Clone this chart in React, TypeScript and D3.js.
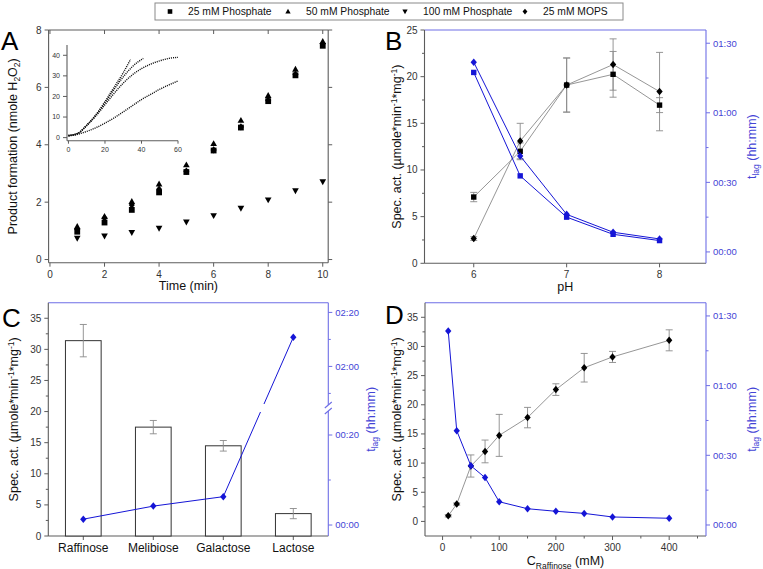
import React from 'react';
import * as d3 from 'd3';

// ---------------- data ----------------
// Panel A: product formation (nmole H2O2) vs time (min)
const timeMin = [1, 2, 3, 4, 5, 6, 7, 8, 9, 10];
const phosphate25 = [0.97, 1.29, 1.73, 2.34, 3.05, 3.8, 4.6, 5.52, 6.42, 7.45];
const phosphate50 = [1.15, 1.5, 2.02, 2.63, 3.3, 4.04, 4.85, 5.72, 6.63, 7.6];
const phosphate100 = [0.74, 0.82, 0.94, 1.09, 1.31, 1.53, 1.79, 2.08, 2.4, 2.71];
const mops25 = [1.05, 1.45, 1.9, 2.45, 3.08, 3.82, 4.62, 5.55, 6.45, 7.52];
const legendLabels = ['25 mM Phosphate', '50 mM Phosphate', '100 mM Phosphate', '25 mM MOPS'];

// Panel A inset curves
const inset1X = [0, 5, 10, 15, 20, 25, 30, 34];
const inset1Y = [1, 2, 6, 11, 17.5, 24.5, 31.5, 38];
const inset2X = [0, 5, 10, 15, 20, 25, 30, 35, 41];
const inset2Y = [1, 2, 6, 11, 17, 23.5, 29.5, 34.5, 38.5];
const inset3X = [0, 5, 10, 15, 20, 25, 30, 35, 40, 45, 50, 55, 60];
const inset3Y = [1, 2, 5.8, 10.5, 16, 21.5, 26.5, 30.5, 33.5, 35.7, 37.3, 38.5, 39];
const inset4X = [0, 5, 10, 15, 20, 25, 30, 35, 40, 45, 50, 55, 60];
const inset4Y = [0.8, 1.6, 3, 4.8, 7, 9.6, 12.5, 15.5, 18.5, 21, 23.5, 25.6, 27.5];

// Panel B: pH
const pHValues = [6, 6.5, 7, 7.5, 8];
const actSquare = [7.1, 12.0, 19.1, 20.25, 16.95];
const actSquareErr = [0.5, 0.9, 2.9, 2.45, 0.8];
const actDiamond = [2.65, 13.1, 19.1, 21.3, 18.4];
const actDiamondErr = [0.2, 1.9, 2.9, 2.75, 4.2];
const lagSquareMin = [77.4, 32.8, 15.0, 7.6, 4.9];
const lagDiamondMin = [81.8, 41.4, 16.2, 8.5, 5.6];

// Panel C: sugars
const sugars = ['Raffinose', 'Melibiose', 'Galactose', 'Lactose'];
const sugarAct = [31.4, 17.5, 14.5, 3.6];
const sugarErr = [2.6, 1.07, 0.85, 0.82];
const sugarLagMin = [1.3, 4.2, 6.3, 130.8];

// Panel D: raffinose concentration
const raffConc = [10, 25, 50, 75, 100, 150, 200, 250, 300, 400];
const raffAct = [0.96, 2.97, 9.5, 12.0, 14.75, 17.8, 22.6, 26.35, 28.2, 31.05];
const raffErr = [0.2, 0.2, 1.9, 1.95, 3.6, 1.75, 1.0, 2.45, 0.95, 1.8];
const raffLagMin = [83.5, 40.6, 25.5, 20.4, 10.0, 7.0, 5.9, 5.0, 3.45, 2.9];

// ---------------- styles ----------------
const FONT = "'Liberation Sans', Arial, Helvetica, sans-serif";
const AX = '#5c5c5c';
const TXT = '#333';
const BLUE_AX = '#6e6ee6';
const BLUE_TXT = '#4444d6';
const BLUE = '#1515d6';
const GRAY_LINE = '#8a8a8a';

type Shape = 'square' | 'up' | 'down' | 'diamond';
function markerPath(shape: Shape, r: number): string {
  switch (shape) {
    case 'square':
      return `M${-r},${-r}H${r}V${r}H${-r}Z`;
    case 'up':
      return `M0,${-r * 1.2}L${r * 1.15},${r * 0.85}L${-r * 1.15},${r * 0.85}Z`;
    case 'down':
      return `M0,${r * 1.2}L${r * 1.15},${-r * 0.85}L${-r * 1.15},${-r * 0.85}Z`;
    case 'diamond':
      return `M0,${-r * 1.25}L${r * 1.05},0L0,${r * 1.25}L${-r * 1.05},0Z`;
  }
}

const fmtHM = (m: number) => {
  const h = Math.floor(m / 60);
  const mm = Math.round(m - h * 60);
  return `${String(h).padStart(2, '0')}:${String(mm).padStart(2, '0')}`;
};

type Sc = (v: number) => number;

function VAxis(p: {
  x: number; y0: number; y1: number; scale: Sc; ticks: number[]; minor?: number[];
  side: 'left' | 'right'; color: string; textColor: string; fmt?: (d: number) => string; fs?: number; k: string;
}) {
  const dir = p.side === 'left' ? -1 : 1;
  const fmt = p.fmt || ((d: number) => String(d));
  const fs = p.fs || 10;
  return (
    <g key={p.k}>
      <line x1={p.x} x2={p.x} y1={p.y0} y2={p.y1} stroke={p.color} strokeWidth={1.1} />
      {p.ticks.map((t, i) => (
        <g key={'t' + i}>
          <line x1={p.x} x2={p.x + dir * 4} y1={p.scale(t)} y2={p.scale(t)} stroke={p.color} strokeWidth={1} />
          <text x={p.x + dir * 7} y={p.scale(t)} dy="0.35em" textAnchor={p.side === 'left' ? 'end' : 'start'}
            fontSize={fs} fill={p.textColor} fontFamily={FONT}>{fmt(t)}</text>
        </g>
      ))}
      {(p.minor || []).map((t, i) => (
        <line key={'m' + i} x1={p.x} x2={p.x + dir * 2.5} y1={p.scale(t)} y2={p.scale(t)} stroke={p.color} strokeWidth={1} />
      ))}
    </g>
  );
}

function HAxis(p: {
  y: number; x0: number; x1: number; scale: Sc; ticks: number[]; minor?: number[];
  color: string; textColor: string; fmt?: (d: number) => string; fs?: number; k: string; len?: number;
}) {
  const fmt = p.fmt || ((d: number) => String(d));
  const fs = p.fs || 10;
  const len = p.len ?? 4;
  return (
    <g key={p.k}>
      <line x1={p.x0} x2={p.x1} y1={p.y} y2={p.y} stroke={p.color} strokeWidth={1.1} />
      {p.ticks.map((t, i) => (
        <g key={'t' + i}>
          <line x1={p.scale(t)} x2={p.scale(t)} y1={p.y} y2={p.y + len} stroke={p.color} strokeWidth={1} />
          <text x={p.scale(t)} y={p.y + len + fs + 1} textAnchor="middle" fontSize={fs} fill={p.textColor} fontFamily={FONT}>{fmt(t)}</text>
        </g>
      ))}
      {(p.minor || []).map((t, i) => (
        <line key={'m' + i} x1={p.scale(t)} x2={p.scale(t)} y1={p.y} y2={p.y + 2.5} stroke={p.color} strokeWidth={1} />
      ))}
    </g>
  );
}

function ErrBar({ x, yLo, yHi, k }: { x: number; yLo: number; yHi: number; k: string }) {
  return (
    <g key={k} stroke={GRAY_LINE} strokeWidth={0.9}>
      <line x1={x} x2={x} y1={yLo} y2={yHi} />
      <line x1={x - 3.5} x2={x + 3.5} y1={yLo} y2={yLo} />
      <line x1={x - 3.5} x2={x + 3.5} y1={yHi} y2={yHi} />
    </g>
  );
}

function SpecActLabel({ x, y }: { x: number; y: number }) {
  return (
    <text transform={`translate(${x},${y}) rotate(-90)`} textAnchor="middle" fontSize={12.5} fontFamily={FONT} fill="#111">
      Spec. act. (µmole*min<tspan dy={-4.5} fontSize={8.5}>-1</tspan><tspan dy={4.5}>*mg</tspan><tspan dy={-4.5} fontSize={8.5}>-1</tspan><tspan dy={4.5}>)</tspan>
    </text>
  );
}

function LagLabel({ x, y }: { x: number; y: number }) {
  return (
    <text transform={`translate(${x},${y}) rotate(-90)`} textAnchor="middle" fontSize={12.5} fontFamily={FONT} fill={BLUE_TXT}>
      t<tspan dy={3} fontSize={8.5}>lag</tspan><tspan dy={-3}> (hh:mm)</tspan>
    </text>
  );
}

export default function App() {
  // ---------- Panel A ----------
  const aL = 48.6, aR = 328.2, aT = 30, aB = 262.7;
  const ax = d3.scaleLinear().domain([-0.05, 10.2]).range([aL, aR]);
  const ay = d3.scaleLinear().domain([-0.11, 8]).range([aB, aT]);
  const aXTicks = [0, 2, 4, 6, 8, 10];
  const aYTicks = [0, 2, 4, 6, 8];
  const aSeries: { vals: number[]; shape: Shape }[] = [
    { vals: phosphate100, shape: 'down' },
    { vals: phosphate50, shape: 'up' },
    { vals: phosphate25, shape: 'square' },
    { vals: mops25, shape: 'diamond' },
  ];

  // inset
  const iL = 67, iR = 178, iT = 45, iB = 140.7;
  const ix = d3.scaleLinear().domain([-0.8, 60]).range([iL, iR]);
  const iy = d3.scaleLinear().domain([-1.5, 45]).range([iB, iT]);
  const insetLine = d3.line<[number, number]>().x(d => ix(d[0])).y(d => iy(d[1])).curve(d3.curveMonotoneX);
  const insetCurves = [
    [inset1X, inset1Y], [inset2X, inset2Y], [inset3X, inset3Y], [inset4X, inset4Y],
  ].map(([xs, ys]) => xs.map((x, i) => [x, ys[i]] as [number, number]));

  // ---------- Panel B ----------
  const bL = 424.5, bR = 706, bT = 30, bB = 263.3;
  const bx = d3.scaleLinear().domain([5.47, 8.5]).range([bL, bR]);
  const by = d3.scaleLinear().domain([0, 25]).range([bB, bT]);
  const bt = d3.scaleLinear().domain([-4.9, 95.7]).range([bB, bT]);
  const lineB = (vals: number[], ys: Sc) =>
    d3.line<number>().x((_, i) => bx(pHValues[i])).y(d => ys(d))(vals) || '';

  // ---------- Panel C ----------
  const cL = 48.3, cR = 328.3, cT = 302.7, cB = 536;
  const cx = d3.scaleBand<string>().domain(sugars).range([cL, cR]).paddingInner(0.49).paddingOuter(0.245);
  const cy = d3.scaleLinear().domain([0, 37.5]).range([cB, cT]);
  const cBreak = 408;
  const cLagLow = d3.scaleLinear().domain([-2.44, 26]).range([cB, cBreak]);
  const cLagHigh = d3.scaleLinear().domain([104.6, 143.6]).range([cBreak, cT]);
  const cLag = (m: number) => (m < 60 ? cLagLow(m) : cLagHigh(m));
  const cPts = sugars.map((s, i) => [cx(s)! + cx.bandwidth() / 2, cLag(sugarLagMin[i])] as [number, number]);
  // split segments around the axis break gap
  const gapHi = cBreak - 4, gapLo = cBreak + 4;
  const cSegs: [number, number][][] = [];
  {
    let cur: [number, number][] = [cPts[0]];
    for (let i = 1; i < cPts.length; i++) {
      const a = cPts[i - 1], b = cPts[i];
      const crosses = (a[1] > gapLo && b[1] < gapHi) || (a[1] < gapHi && b[1] > gapLo);
      if (crosses) {
        const interp = (yy: number) => [a[0] + ((yy - a[1]) / (b[1] - a[1])) * (b[0] - a[0]), yy] as [number, number];
        const first = a[1] > b[1] ? gapLo : gapHi;
        const second = a[1] > b[1] ? gapHi : gapLo;
        cur.push(interp(first));
        cSegs.push(cur);
        cur = [interp(second), b];
      } else {
        cur.push(b);
      }
    }
    cSegs.push(cur);
  }

  // ---------- Panel D ----------
  const dL = 425, dR = 706, dT = 302.7, dB = 536;
  const dx = d3.scaleLinear().domain([-31, 465]).range([dL, dR]);
  const dy = d3.scaleLinear().domain([-2.5, 37.5]).range([dB, dT]);
  const dt = d3.scaleLinear().domain([-4.74, 95.7]).range([dB, dT]);
  const lineD = (vals: number[], ys: Sc) =>
    d3.line<number>().x((_, i) => dx(raffConc[i])).y(d => ys(d))(vals) || '';

  const legendX = [170, 288, 405, 525];
  const legendShapes: Shape[] = ['square', 'up', 'down', 'diamond'];

  return (
    <svg width={763} height={569} style={{ position: 'absolute', left: 0, top: 0, background: '#fff' }} fontFamily={FONT}>
      <rect x={0} y={0} width={763} height={569} fill="#fff" />

      {/* Legend */}
      <rect x={155} y={3} width={468} height={17} fill="#fff" stroke="#8a8a8a" strokeWidth={1} />
      {legendLabels.map((lab, i) => (
        <g key={'lg' + i}>
          <path d={markerPath(legendShapes[i], 2.3)} transform={`translate(${legendX[i]},11.5)`} fill="#000" />
          <text x={legendX[i] + 18} y={15.3} fontSize={10.3} fill="#111">{lab}</text>
        </g>
      ))}

      {/* ================= Panel A ================= */}
      <text x={1} y={50} fontSize={26} fill="#000">A</text>
      {/* frame */}
      <line x1={aL} x2={aR} y1={aT} y2={aT} stroke={AX} strokeWidth={1.1} />
      <line x1={aR} x2={aR} y1={aT} y2={aB} stroke={AX} strokeWidth={1.1} />
      {aXTicks.map((t, i) => <line key={'at' + i} x1={ax(t)} x2={ax(t)} y1={aT} y2={aT + 4} stroke={AX} />)}
      {aYTicks.map((t, i) => <line key={'ar' + i} x1={aR} x2={aR + 4} y1={ay(t)} y2={ay(t)} stroke={AX} />)}
      <VAxis k="aL" x={aL} y0={aT} y1={aB} scale={ay} ticks={aYTicks} side="left" color={AX} textColor={TXT} />
      <HAxis k="aB" y={aB} x0={aL} x1={aR} scale={ax} ticks={aXTicks} color={AX} textColor={TXT} />
      {aSeries.map((s, si) => (
        <g key={'as' + si}>
          {s.vals.map((v, i) => (
            <path key={i} d={markerPath(s.shape, 2.9)} transform={`translate(${ax(timeMin[i])},${ay(v)})`} fill="#000" />
          ))}
        </g>
      ))}
      <text x={(aL + aR) / 2} y={290} textAnchor="middle" fontSize={12.5} fill="#111">Time (min)</text>
      <text transform={`translate(17,${(aT + aB) / 2}) rotate(-90)`} textAnchor="middle" fontSize={12.5} fill="#111">
        Product formation (nmole H<tspan dy={3} fontSize={8.5}>2</tspan><tspan dy={-3}>O</tspan><tspan dy={3} fontSize={8.5}>2</tspan><tspan dy={-3}>)</tspan>
      </text>

      {/* inset */}
      <VAxis k="iL" x={iL} y0={iT} y1={iB} scale={iy} ticks={[0, 10, 20, 30, 40]} side="left" color={AX} textColor={TXT} fs={7} />
      <HAxis k="iB" y={iB} x0={iL} x1={iR} scale={ix} ticks={[0, 20, 40, 60]} color={AX} textColor={TXT} fs={7} len={3} />
      {insetCurves.map((c, i) => (
        <path key={'ic' + i} d={insetLine(c) || ''} fill="none" stroke="#111" strokeWidth={1.4} strokeDasharray="1.1,1" />
      ))}

      {/* ================= Panel B ================= */}
      <text x={385} y={50} fontSize={26} fill="#000">B</text>
      <line x1={bL} x2={bR} y1={bT} y2={bT} stroke={BLUE_AX} strokeWidth={1.1} />
      <VAxis k="bL" x={bL} y0={bT} y1={bB} scale={by} ticks={[0, 5, 10, 15, 20, 25]} minor={[2.5, 7.5, 12.5, 17.5, 22.5]}
        side="left" color={AX} textColor={TXT} />
      <HAxis k="bB" y={bB} x0={bL} x1={bR} scale={bx} ticks={[6, 7, 8]} color={AX} textColor={TXT} />
      <VAxis k="bR" x={bR} y0={bT} y1={bB} scale={bt} ticks={[0, 30, 60, 90]} minor={[15, 45, 75]}
        side="right" color={BLUE_AX} textColor={BLUE_TXT} fmt={fmtHM} fs={9.5} />
      {/* activity lines + error bars */}
      <path d={lineB(actSquare, by)} fill="none" stroke={GRAY_LINE} strokeWidth={0.9} />
      <path d={lineB(actDiamond, by)} fill="none" stroke={GRAY_LINE} strokeWidth={0.9} />
      {pHValues.map((p, i) => (
        <g key={'be' + i}>
          <ErrBar k={'bes' + i} x={bx(p)} yLo={by(actSquare[i] - actSquareErr[i])} yHi={by(actSquare[i] + actSquareErr[i])} />
          <ErrBar k={'bed' + i} x={bx(p)} yLo={by(actDiamond[i] - actDiamondErr[i])} yHi={by(actDiamond[i] + actDiamondErr[i])} />
        </g>
      ))}
      {pHValues.map((p, i) => (
        <g key={'bm' + i}>
          <path d={markerPath('square', 2.7)} transform={`translate(${bx(p)},${by(actSquare[i])})`} fill="#000" />
          <path d={markerPath('diamond', 3)} transform={`translate(${bx(p)},${by(actDiamond[i])})`} fill="#000" />
        </g>
      ))}
      {/* lag lines */}
      <path d={lineB(lagSquareMin, bt)} fill="none" stroke={BLUE} strokeWidth={1} />
      <path d={lineB(lagDiamondMin, bt)} fill="none" stroke={BLUE} strokeWidth={1} />
      {pHValues.map((p, i) => (
        <g key={'bl' + i}>
          <path d={markerPath('square', 2.7)} transform={`translate(${bx(p)},${bt(lagSquareMin[i])})`} fill={BLUE} />
          <path d={markerPath('diamond', 3)} transform={`translate(${bx(p)},${bt(lagDiamondMin[i])})`} fill={BLUE} />
        </g>
      ))}
      <text x={(bL + bR) / 2} y={291} textAnchor="middle" fontSize={12.5} fill="#111">pH</text>
      <SpecActLabel x={401} y={(bT + bB) / 2} />
      <LagLabel x={756} y={(bT + bB) / 2} />

      {/* ================= Panel C ================= */}
      <text x={2} y={327} fontSize={26} fill="#000">C</text>
      <line x1={cL} x2={cR} y1={cT} y2={cT} stroke={BLUE_AX} strokeWidth={1.1} />
      <VAxis k="cL" x={cL} y0={cT} y1={cB} scale={cy} ticks={[0, 5, 10, 15, 20, 25, 30, 35]}
        minor={[2.5, 7.5, 12.5, 17.5, 22.5, 27.5, 32.5]} side="left" color={AX} textColor={TXT} />
      {/* bottom category axis */}
      <line x1={cL} x2={cR} y1={cB} y2={cB} stroke={AX} strokeWidth={1.1} />
      {sugars.map((s, i) => (
        <g key={'cx' + i}>
          <line x1={cx(s)! + cx.bandwidth() / 2} x2={cx(s)! + cx.bandwidth() / 2} y1={cB} y2={cB + 4} stroke={AX} />
          <text x={cx(s)! + cx.bandwidth() / 2} y={552} textAnchor="middle" fontSize={12} fill="#111">{s}</text>
        </g>
      ))}
      {/* broken right axis */}
      <line x1={cR} x2={cR} y1={cB} y2={cBreak + 3} stroke={BLUE_AX} strokeWidth={1.1} />
      <line x1={cR} x2={cR} y1={cBreak - 3} y2={cT} stroke={BLUE_AX} strokeWidth={1.1} />
      <line x1={cR - 3.5} x2={cR + 3.5} y1={cBreak + 6} y2={cBreak} stroke={BLUE_AX} strokeWidth={1.1} />
      <line x1={cR - 3.5} x2={cR + 3.5} y1={cBreak} y2={cBreak - 6} stroke={BLUE_AX} strokeWidth={1.1} />
      {[0, 20].map((t, i) => (
        <g key={'cr' + i}>
          <line x1={cR} x2={cR + 4} y1={cLagLow(t)} y2={cLagLow(t)} stroke={BLUE_AX} />
          <text x={cR + 7} y={cLagLow(t)} dy="0.35em" fontSize={9.5} fill={BLUE_TXT}>{fmtHM(t)}</text>
        </g>
      ))}
      {[120, 140].map((t, i) => (
        <g key={'cr2' + i}>
          <line x1={cR} x2={cR + 4} y1={cLagHigh(t)} y2={cLagHigh(t)} stroke={BLUE_AX} />
          <text x={cR + 7} y={cLagHigh(t)} dy="0.35em" fontSize={9.5} fill={BLUE_TXT}>{fmtHM(t)}</text>
        </g>
      ))}
      {[10].map((t, i) => <line key={'crm' + i} x1={cR} x2={cR + 2.5} y1={cLagLow(t)} y2={cLagLow(t)} stroke={BLUE_AX} />)}
      {[110, 130].map((t, i) => <line key={'crm2' + i} x1={cR} x2={cR + 2.5} y1={cLagHigh(t)} y2={cLagHigh(t)} stroke={BLUE_AX} />)}
      {/* bars */}
      {sugars.map((s, i) => (
        <rect key={'cb' + i} x={cx(s)!} y={cy(sugarAct[i])} width={cx.bandwidth()} height={cB - cy(sugarAct[i])}
          fill="#fff" stroke="#333" strokeWidth={1} />
      ))}
      {sugars.map((s, i) => (
        <ErrBar key={'ce' + i} k={'ce' + i} x={cx(s)! + cx.bandwidth() / 2}
          yLo={cy(sugarAct[i] - sugarErr[i])} yHi={cy(sugarAct[i] + sugarErr[i])} />
      ))}
      {cSegs.map((seg, i) => (
        <path key={'cs' + i} d={d3.line()(seg) || ''} fill="none" stroke={BLUE} strokeWidth={1} />
      ))}
      {cPts.map((p, i) => (
        <path key={'cp' + i} d={markerPath('diamond', 3)} transform={`translate(${p[0]},${p[1]})`} fill={BLUE} />
      ))}
      <SpecActLabel x={18} y={(cT + cB) / 2} />
      <LagLabel x={375} y={(cT + cB) / 2} />

      {/* ================= Panel D ================= */}
      <text x={385} y={324} fontSize={26} fill="#000">D</text>
      <line x1={dL} x2={dR} y1={dT} y2={dT} stroke={BLUE_AX} strokeWidth={1.1} />
      <VAxis k="dL" x={dL} y0={dT} y1={dB} scale={dy} ticks={[0, 5, 10, 15, 20, 25, 30, 35]}
        minor={[2.5, 7.5, 12.5, 17.5, 22.5, 27.5, 32.5]} side="left" color={AX} textColor={TXT} />
      <HAxis k="dB" y={dB} x0={dL} x1={dR} scale={dx} ticks={[0, 100, 200, 300, 400]} minor={[50, 150, 250, 350, 450]}
        color={AX} textColor={TXT} />
      <VAxis k="dR" x={dR} y0={dT} y1={dB} scale={dt} ticks={[0, 30, 60, 90]} minor={[15, 45, 75]}
        side="right" color={BLUE_AX} textColor={BLUE_TXT} fmt={fmtHM} fs={9.5} />
      <path d={lineD(raffAct, dy)} fill="none" stroke={GRAY_LINE} strokeWidth={0.9} />
      {raffConc.map((c, i) => (
        <ErrBar key={'de' + i} k={'de' + i} x={dx(c)} yLo={dy(raffAct[i] - raffErr[i])} yHi={dy(raffAct[i] + raffErr[i])} />
      ))}
      {raffConc.map((c, i) => (
        <path key={'dm' + i} d={markerPath('diamond', 3)} transform={`translate(${dx(c)},${dy(raffAct[i])})`} fill="#000" />
      ))}
      <path d={lineD(raffLagMin, dt)} fill="none" stroke={BLUE} strokeWidth={1} />
      {raffConc.map((c, i) => (
        <path key={'dl' + i} d={markerPath('diamond', 3)} transform={`translate(${dx(c)},${dt(raffLagMin[i])})`} fill={BLUE} />
      ))}
      <text x={(dL + dR) / 2} y={565} textAnchor="middle" fontSize={12.5} fill="#111">
        C<tspan dy={3.5} fontSize={8.5}>Raffinose</tspan><tspan dy={-3.5}> (mM)</tspan>
      </text>
      <SpecActLabel x={401} y={(dT + dB) / 2} />
      <LagLabel x={756} y={(dT + dB) / 2} />
    </svg>
  );
}
